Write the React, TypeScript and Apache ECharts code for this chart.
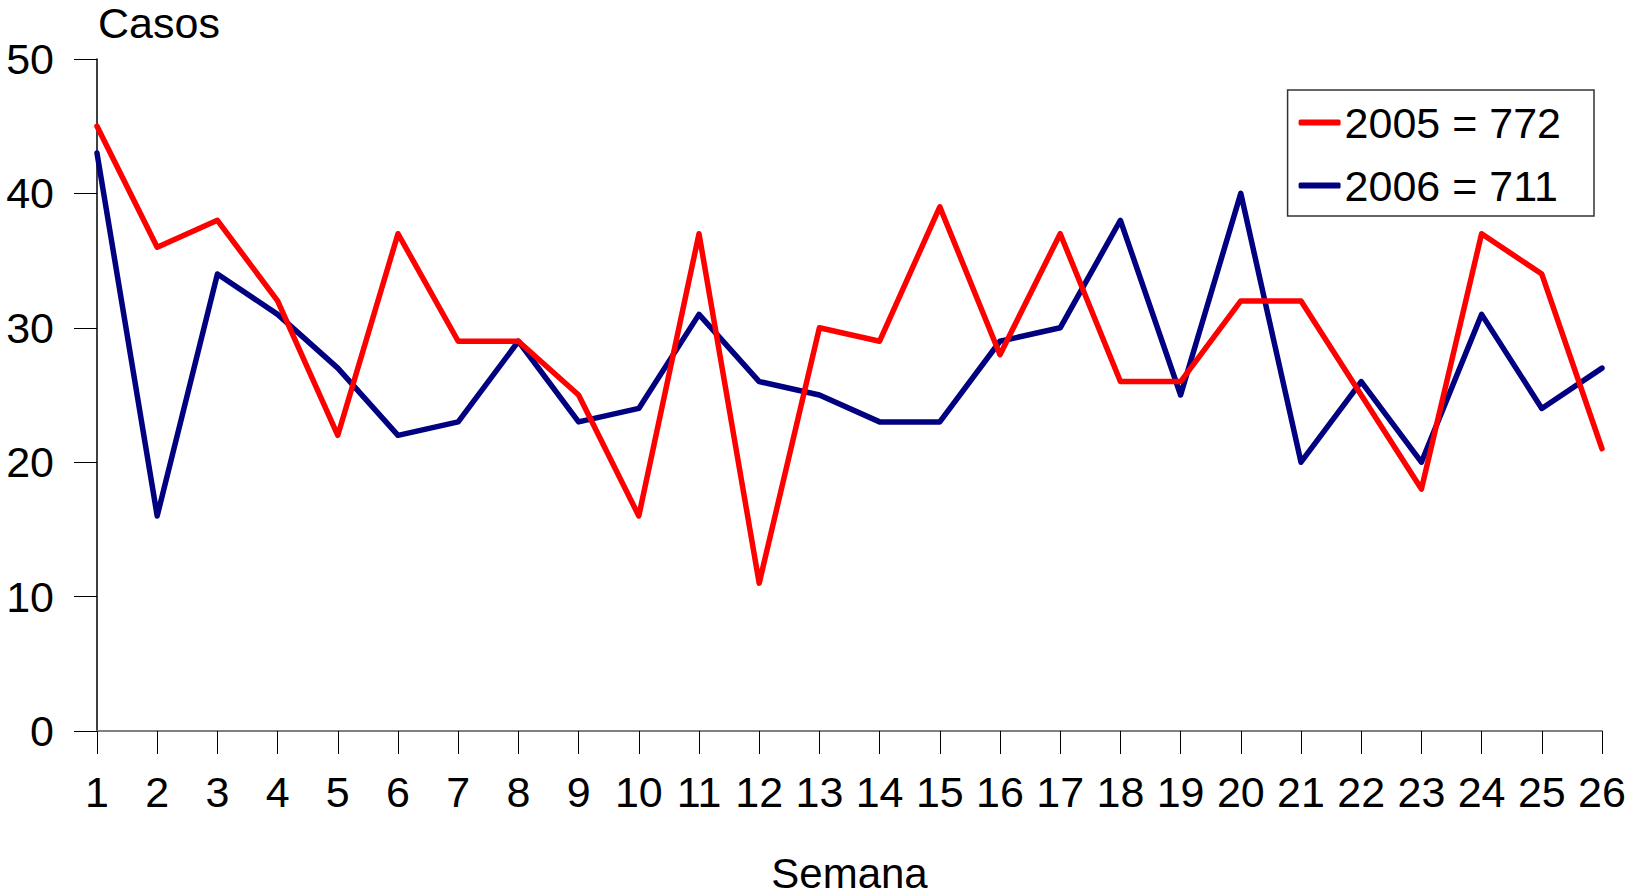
import React, { useEffect, useRef } from "react";
import * as echarts from "echarts";

const weeks = ["1","2","3","4","5","6","7","8","9","10","11","12","13","14","15","16","17","18","19","20","21","22","23","24","25","26"];
const cases2005 = [45, 36, 38, 32, 22, 37, 29, 29, 25, 16, 37, 11, 30, 29, 39, 28, 37, 26, 26, 32, 32, 25, 18, 37, 34, 21];
const cases2006 = [43, 16, 34, 31, 27, 22, 23, 29, 23, 24, 31, 26, 25, 23, 23, 29, 30, 38, 25, 40, 20, 26, 20, 31, 24, 27];
const seriesNames = ["2005 = 772", "2006 = 711"];
const yTicks = [0, 10, 20, 30, 40, 50];

const FONT = "Liberation Sans, Arial, Helvetica, sans-serif";

export default function App() {
  const ref = useRef<HTMLDivElement>(null);
  useEffect(() => {
    if (!ref.current) return;
    const chart = echarts.init(ref.current, null, { renderer: "svg" });
    chart.setOption({
      animation: false,
      backgroundColor: "#ffffff",
      textStyle: { fontFamily: FONT },
      grid: { left: 97, right: 25, top: 59, bottom: 163, containLabel: false, outerBoundsMode: "none" },
      legend: {
        show: true,
        orient: "vertical",
        right: 33,
        top: 90,
        padding: [11, 33, 9, 11],
        borderColor: "#333333",
        borderWidth: 1.5,
        itemWidth: 42,
        itemHeight: 6,
        itemGap: 20,
        icon: "roundRect",
        itemStyle: { borderWidth: 0 },
        textStyle: { fontSize: 43, color: "#000000", fontFamily: FONT, padding: [0, 0, 0, -1] },
        data: seriesNames,
      },
      xAxis: {
        type: "category",
        data: weeks,
        boundaryGap: false,
        name: "Semana",
        nameLocation: "middle",
        nameGap: 127,
        nameTextStyle: { fontSize: 42, lineHeight: 30, color: "#000000", fontFamily: FONT },
        axisLine: { show: true, lineStyle: { color: "#808080", width: 2 } },
        axisTick: { show: true, inside: false, length: 23, alignWithLabel: true, lineStyle: { color: "#000000", width: 1 } },
        axisLabel: { show: true, fontSize: 43, color: "#000000", margin: 39, interval: 0, fontFamily: FONT },
        splitLine: { show: false },
      },
      yAxis: {
        type: "value",
        min: yTicks[0],
        max: yTicks[yTicks.length - 1],
        interval: 10,
        axisLine: { show: true, onZero: false, lineStyle: { color: "#000000", width: 1.5 } },
        axisTick: { show: true, inside: false, length: 23, lineStyle: { color: "#000000", width: 1 } },
        axisLabel: { show: true, fontSize: 43, color: "#000000", margin: 43, fontFamily: FONT },
        splitLine: { show: false },
      },
      graphic: [
        {
          type: "text",
          left: 98,
          top: 1,
          style: { text: "Casos", fontSize: 43, fill: "#000000", fontFamily: FONT },
        },
      ],
      series: [
        {
          name: seriesNames[0],
          type: "line",
          data: cases2005,
          showSymbol: false,
          symbol: "none",
          lineStyle: { color: "#ff0000", width: 5.5, cap: "round", join: "round" },
          itemStyle: { color: "#ff0000" },
          z: 3,
        },
        {
          name: seriesNames[1],
          type: "line",
          data: cases2006,
          showSymbol: false,
          symbol: "none",
          lineStyle: { color: "#000080", width: 5.5, cap: "round", join: "round" },
          itemStyle: { color: "#000080" },
          z: 2,
        },
      ],
    });
    return () => chart.dispose();
  }, []);
  return (
    <div
      ref={ref}
      style={{ position: "absolute", left: 0, top: 0, width: 1627, height: 894, background: "#fff" }}
    />
  );
}
